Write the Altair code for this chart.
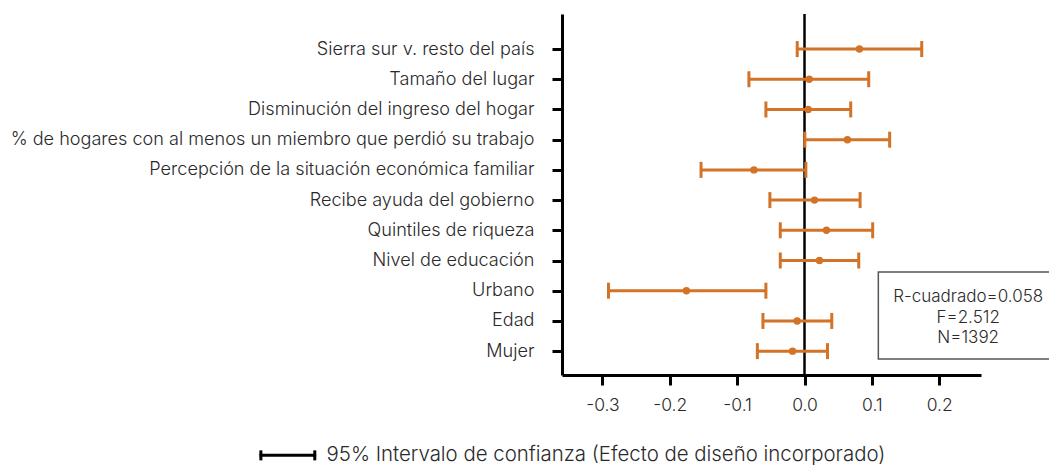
import altair as alt
import pandas as pd

# Data (top to bottom)
labels = [
    "Sierra sur v. resto del país",
    "Tamaño del lugar",
    "Disminución del ingreso del hogar",
    "% de hogares con al menos un miembro que perdió su trabajo",
    "Percepción de la situación económica familiar",
    "Recibe ayuda del gobierno",
    "Quintiles de riqueza",
    "Nivel de educación",
    "Urbano",
    "Edad",
    "Mujer",
]
estimates = [0.0815, 0.007, 0.0055, 0.0637, -0.0751, 0.0148, 0.0326, 0.0222, -0.1753, -0.0109, -0.0178]
ci_low = [-0.0108, -0.0825, -0.0573, 0.0005, -0.1536, -0.0514, -0.036, -0.036, -0.291, -0.0617, -0.070]
ci_high = [0.174, 0.0953, 0.0686, 0.1264, 0.002, 0.0825, 0.1012, 0.0805, -0.0573, 0.0405, 0.0341]

x_ticks = [-0.3, -0.2, -0.1, 0.0, 0.1, 0.2]
stats_lines = ["R-cuadrado=0.058", "F=2.512", "N=1392"]
legend_text = "95% Intervalo de confianza (Efecto de diseño incorporado)"

n = len(labels)
df = pd.DataFrame({
    "label": labels,
    "pos": [n - 1 - i for i in range(n)],
    "est": estimates,
    "lo": ci_low,
    "hi": ci_high,
})

ORANGE = "#D27327"
FONT = "Inter"
TXT = "#2a2a2a"
W = 300

label_expr = "[" + ",".join("'" + l + "'" for l in reversed(labels)) + "][round(datum.value)]"

xscale = alt.Scale(domain=[-0.36, 0.262], nice=False, zero=False)
yscale = alt.Scale(domain=[-0.79, 11.16], nice=False, zero=False)

xaxis = alt.Axis(values=x_ticks, labelExpr="replace(format(datum.value, '.1f'), '\u2212', '-')",
                 title=None, grid=False,
                 domainColor="black", domainWidth=3, tickColor="black", tickWidth=3,
                 tickSize=10, labelFontSize=17.5, labelFont=FONT, labelColor=TXT,
                 labelFontWeight=W, labelPadding=11, labelOverlap=False)
yaxis = alt.Axis(values=list(range(n)), labelExpr=label_expr, title=None, grid=False,
                 domainColor="black", domainWidth=3, tickColor="black", tickWidth=3,
                 tickSize=10, labelFontSize=18.1, labelFont=FONT, labelColor=TXT,
                 labelFontWeight=W, labelPadding=18, labelLimit=0, labelOverlap=False,
                 labelBound=False)


def X(field):
    return alt.X(field, scale=xscale, axis=xaxis)


def Y(field):
    return alt.Y(field, scale=yscale, axis=yaxis)


base = alt.Chart(df)

zero_line = alt.Chart(pd.DataFrame({"z": [0.0]})).mark_rule(color="black", strokeWidth=2.5).encode(
    x=X("z:Q")
)

bars = base.mark_rule(color=ORANGE, strokeWidth=3).encode(
    x=X("lo:Q"), x2="hi:Q", y=Y("pos:Q")
)
cap_lo = base.mark_tick(color=ORANGE, orient="vertical", size=16, thickness=3, opacity=1).encode(
    x=X("lo:Q"), y=Y("pos:Q")
)
cap_hi = base.mark_tick(color=ORANGE, orient="vertical", size=16, thickness=3, opacity=1).encode(
    x=X("hi:Q"), y=Y("pos:Q")
)
points = base.mark_circle(color=ORANGE, size=55, opacity=1).encode(
    x=X("est:Q"), y=Y("pos:Q")
)

# Statistics box
box_df = pd.DataFrame({"x": [0.1096], "x2": [0.40], "y": [2.62], "y2": [-0.26]})
box = alt.Chart(box_df).mark_rect(fill="white", stroke="#555555", strokeWidth=1.5).encode(
    x=X("x:Q"), x2="x2:Q", y=Y("y:Q"), y2="y2:Q"
)
stats_df = pd.DataFrame({"t": stats_lines, "x": [0.243] * 3, "y": [1.79, 1.10, 0.43]})
stats = alt.Chart(stats_df).mark_text(font=FONT, fontSize=17, fontWeight=W, color=TXT,
                                      align="center", baseline="middle").encode(
    x=X("x:Q"), y=Y("y:Q"), text="t:N"
)

# Legend (drawn below the plot)
leg_y = -3.45
leg_line = alt.Chart(pd.DataFrame({"a": [-0.809], "b": [-0.725], "y": [leg_y]})).mark_rule(
    color="black", strokeWidth=3).encode(
    x=X("a:Q"), x2="b:Q", y=Y("y:Q"))
leg_caps = alt.Chart(pd.DataFrame({"a": [-0.807, -0.727], "y": [leg_y, leg_y]})).mark_tick(
    color="black", orient="vertical", size=10, thickness=3, opacity=1).encode(
    x=X("a:Q"), y=Y("y:Q"))
leg_text = alt.Chart(pd.DataFrame({"a": [-0.7095], "y": [leg_y], "t": [legend_text]})).mark_text(
    font=FONT, fontSize=20.4, fontWeight=W, color=TXT, align="left", baseline="middle").encode(
    x=X("a:Q"), y=Y("y:Q"), text="t:N")

chart = alt.layer(
    zero_line, bars, cap_lo, cap_hi, points, box, stats,
    leg_line, leg_caps, leg_text
).properties(
    width=419, height=361,
    autosize=alt.AutoSizeParams(type="none"),
    padding={"left": 554, "top": 6, "right": 68, "bottom": 90},
).configure_view(stroke=None).configure_axis(labelFont=FONT, labelOverlap=False)

chart.save("out.html", embed_options={"renderer": "svg", "actions": False})
